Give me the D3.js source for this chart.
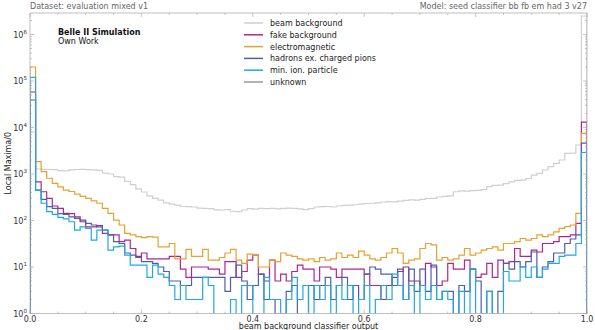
<!DOCTYPE html>
<html>
<head>
<meta charset="utf-8">
<script src="https://cdn.jsdelivr.net/npm/d3@7"></script>
<style>
    body { margin: 0; background: #fff; }
    svg { font-family: "DejaVu Sans", sans-serif; }
    .tick-label { font-size: 8px; fill: #333; }
    .axis-label { font-size: 8px; fill: #222; }
    .header { font-size: 8px; fill: #666; }
    .legend text { font-size: 8px; fill: #222; }
</style>
</head>
<body>
<div id="chart"></div>
<script>
// 100 bins of width 0.01 on [0, 1]
var binEdges = d3.range(0, 101).map(function (i) { return i / 100; });

var seriesNames = ['beam background', 'fake background', 'electromagnetic',
    'hadrons ex. charged pions', 'min. ion. particle', 'unknown'];
var seriesColors = ['#cfcfcf', '#b2258c', '#e6a12e', '#4f5fa6', '#21a8df', '#999999'];

var beamBackground = [8000,
    1280, 1260, 1250, 1240, 1180, 1170, 1230, 1250, 1260, 1240,
    1230, 1200, 1040, 1000, 880, 860, 690, 590, 480, 410,
    340, 300, 275, 240, 225, 215, 200, 198, 195, 185,
    183, 180, 170, 168, 172, 158, 155, 168, 180, 175,
    182, 180, 183, 178, 182, 185, 183, 178, 172, 180,
    195, 198, 200, 195, 205, 212, 215, 218, 225, 232,
    235, 240, 250, 255, 252, 262, 272, 278, 275, 285,
    300, 298, 320, 330, 340, 415, 435, 430, 440, 445,
    460, 535, 570, 575, 620, 680, 730, 740, 800, 950,
    1035, 1220, 1440, 1700, 2000, 2770, 2800, 4200, 2500000];

var fakeBackground = [58000,
    680, 415, 300, 205, 183, 143, 140, 120, 94, 73,
    73, 78, 53, 49, 49, 35, 38, 25, 17, 20,
    15, 15, 15, 15, 17, 17, 9, 6, 10, 10,
    10, 9, 9, 7, 13, 13, 6, 8, 14, 18,
    7, 5, 14, 5, 7, 5, 8, 11, 9, 9,
    5, 10, 10, 9, 6, 9, 9, 9, 9, 7,
    4, 4, 2, 4, 6, 8, 10, 5, 5, 4,
    12, 10, 4, 5, 12, 9, 9, 14, 9, 6,
    7, 12, 6, 14, 12, 13, 25, 17, 17, 23,
    21, 32, 32, 35, 45, 45, 49, 87, 13000];

var electromagnetic = [200000,
    1840, 1120, 810, 630, 530, 450, 420, 370, 330, 300,
    265, 235, 183, 143, 102, 80, 53, 49, 45, 43,
    45, 44, 27, 27, 32, 15, 15, 24, 17, 17,
    24, 14, 14, 16, 20, 24, 14, 12, 19, 18,
    10, 10, 14, 13, 20, 18, 17, 15, 14, 15,
    13, 16, 14, 15, 20, 16, 18, 16, 22, 18,
    15, 14, 16, 20, 25, 20, 12, 14, 15, 25,
    32, 30, 14, 16, 14, 15, 18, 25, 18, 20,
    23, 25, 27, 23, 32, 32, 35, 41, 38, 41,
    49, 45, 49, 57, 68, 74, 80, 143, 7500];

var hadrons = [39000,
    450, 285, 198, 183, 140, 135, 120, 111, 102, 87,
    80, 73, 62, 49, 35, 32, 20, 18, 16, 13,
    13, 12, 10, 8, 5, 5, 4, 4, 6, 6,
    6, 6, 6, 6, 3, 6, 11, 5, 2, 4,
    7, 2, 2, 1, 1, 3, 4, 0, 0, 4,
    2, 4, 6, 2, 4, 6, 2, 4, 2, 7,
    10, 9, 7, 7, 4, 9, 2, 9, 3, 9,
    3, 11, 2, 3, 3, 1, 4, 3, 9, 5,
    1, 3, 1, 3, 12, 9, 13, 10, 13, 21,
    6, 10, 13, 20, 20, 32, 40, 49, 4600];

var minIonParticle = [120000,
    450, 235, 155, 135, 117, 108, 94, 62, 73, 68,
    38, 62, 62, 23, 27, 28, 18, 11, 11, 11,
    6, 11, 7, 6, 4, 2, 4, 2, 2, 2,
    6, 4, 0, 0, 0, 2, 0, 4, 4, 0,
    0, 6, 2, 2, 0, 2, 6, 2, 4, 0,
    4, 2, 4, 0, 4, 2, 4, 0, 2, 4,
    0, 2, 4, 2, 7, 4, 2, 4, 0, 4,
    2, 4, 2, 3, 2, 0, 3, 0, 9, 0,
    0, 3, 0, 0, 8, 5, 5, 10, 6, 10,
    6, 9, 12, 12, 17, 18, 18, 32, 2900];

var unknown = d3.range(0, 100).map(function () { return 0; });

var yTickValues = [1, 10, 100, 1000, 10000, 100000, 1000000];
var xTickValues = [0, 0.2, 0.4, 0.6, 0.8, 1.0];

function main(domSelector) {
    var width = 595;
    var height = 330;
    var margin = {top: 13, bottom: 16.5, left: 30, right: 8};

    var allSeries = [beamBackground, fakeBackground, electromagnetic, hadrons, minIonParticle, unknown];

    var svg = d3.select(domSelector).append('svg')
        .attr('width', width)
        .attr('height', height);

    var xScale = d3.scaleLinear().domain([0, 1]).range([margin.left, width - margin.right]);
    var yScale = d3.scaleLog().domain([1, 2.9e6]).range([height - margin.bottom, margin.top]);
    var x0 = xScale.range()[0], x1 = xScale.range()[1];
    var yb = yScale.range()[0], yt = yScale.range()[1];

    svg.append('clipPath').attr('id', 'plot-clip')
        .append('rect')
        .attr('x', x0).attr('y', yt)
        .attr('width', x1 - x0).attr('height', yb - yt);

    // step outline of one histogram, empty bins drop below the axis
    function stepPath(values) {
        var floor = yb + 20;
        var pts = [[xScale(binEdges[0]), floor]];
        values.forEach(function (v, i) {
            var yy = v > 0 ? yScale(v) : floor;
            pts.push([xScale(binEdges[i]), yy]);
            pts.push([xScale(binEdges[i + 1]), yy]);
        });
        pts.push([xScale(binEdges[binEdges.length - 1]), floor]);
        return d3.line()(pts);
    }

    var hist = svg.append('g').attr('clip-path', 'url(#plot-clip)');
    hist.selectAll('path')
        .data(allSeries)
        .enter()
        .append('path')
        .attr('d', function (d) { return stepPath(d); })
        .attr('fill', 'none')
        .attr('stroke', function (d, i) { return seriesColors[i]; })
        .attr('stroke-width', 1.2)
        .attr('stroke-linejoin', 'miter');

    // frame
    svg.append('rect')
        .attr('x', x0).attr('y', yt)
        .attr('width', x1 - x0).attr('height', yb - yt)
        .attr('fill', 'none')
        .attr('stroke', '#b0b0b0')
        .attr('stroke-width', 0.8);

    // ticks, inward on all sides
    var ticks = svg.append('g').attr('stroke', '#a0a0a0').attr('stroke-width', 0.6);
    var xMinor = d3.range(0, 21).map(function (i) { return i * 0.05; });
    xMinor.forEach(function (t) {
        var major = xTickValues.some(function (m) { return Math.abs(m - t) < 1e-9; });
        var len = major ? 4 : 2;
        ticks.append('line').attr('x1', xScale(t)).attr('x2', xScale(t)).attr('y1', yb).attr('y2', yb - len);
        ticks.append('line').attr('x1', xScale(t)).attr('x2', xScale(t)).attr('y1', yt).attr('y2', yt + len);
    });
    var yMinor = [];
    for (var e = 0; e < 7; e++) {
        for (var m = 1; m < 10; m++) {
            var v = m * Math.pow(10, e);
            if (v <= 2.9e6) yMinor.push(v);
        }
    }
    yMinor.forEach(function (t) {
        var len = yTickValues.indexOf(t) >= 0 ? 4 : 2;
        ticks.append('line').attr('y1', yScale(t)).attr('y2', yScale(t)).attr('x1', x0).attr('x2', x0 + len);
        ticks.append('line').attr('y1', yScale(t)).attr('y2', yScale(t)).attr('x1', x1).attr('x2', x1 - len);
    });

    // tick labels
    svg.append('g').selectAll('text')
        .data(xTickValues)
        .enter()
        .append('text')
        .attr('class', 'tick-label')
        .attr('x', function (d) { return xScale(d); })
        .attr('y', yb + 8)
        .attr('text-anchor', 'middle')
        .text(function (d) { return d3.format('.1f')(d); });

    var yLabels = svg.append('g').selectAll('text')
        .data(yTickValues)
        .enter()
        .append('text')
        .attr('class', 'tick-label')
        .attr('x', x0 - 3)
        .attr('y', function (d) { return yScale(d) + 3; })
        .attr('text-anchor', 'end');
    yLabels.append('tspan').text('10');
    yLabels.append('tspan')
        .attr('dy', -4)
        .attr('font-size', '5.6px')
        .text(function (d) { return Math.round(Math.log10(d)); });

    svg.append('text')
        .attr('class', 'axis-label')
        .attr('x', (x0 + x1) / 2)
        .attr('y', height - 1)
        .attr('text-anchor', 'middle')
        .text('beam background classifier output');

    svg.append('text')
        .attr('class', 'axis-label')
        .attr('transform', 'translate(11,' + ((yt + yb) / 2) + ') rotate(-90)')
        .attr('text-anchor', 'middle')
        .text('Local Maxima/0');

    // headers
    svg.append('text').attr('class', 'header')
        .attr('x', x0).attr('y', yt - 4)
        .text('Dataset: evaluation mixed v1');
    svg.append('text').attr('class', 'header')
        .attr('x', x1).attr('y', yt - 4)
        .attr('text-anchor', 'end')
        .text('Model: seed classifier bb fb em had 3 v27');

    svg.append('text')
        .attr('x', 58).attr('y', 35)
        .attr('font-size', '8px').attr('font-weight', 'bold').attr('fill', '#111')
        .text('Belle II Simulation');
    svg.append('text')
        .attr('x', 58).attr('y', 44)
        .attr('font-size', '8px').attr('fill', '#111')
        .text('Own Work');

    // legend
    var legend = svg.append('g').attr('class', 'legend');
    var rows = legend.selectAll('g')
        .data(seriesNames)
        .enter()
        .append('g')
        .attr('transform', function (d, i) { return 'translate(244,' + (23 + i * 11.8) + ')'; });
    rows.append('line')
        .attr('x1', 0).attr('x2', 19)
        .attr('y1', 0).attr('y2', 0)
        .attr('stroke', function (d, i) { return seriesColors[i]; })
        .attr('stroke-width', 1.5);
    rows.append('text')
        .attr('x', 26).attr('y', 3)
        .text(function (d) { return d; });
}

main('#chart');
</script>
</body>
</html>
